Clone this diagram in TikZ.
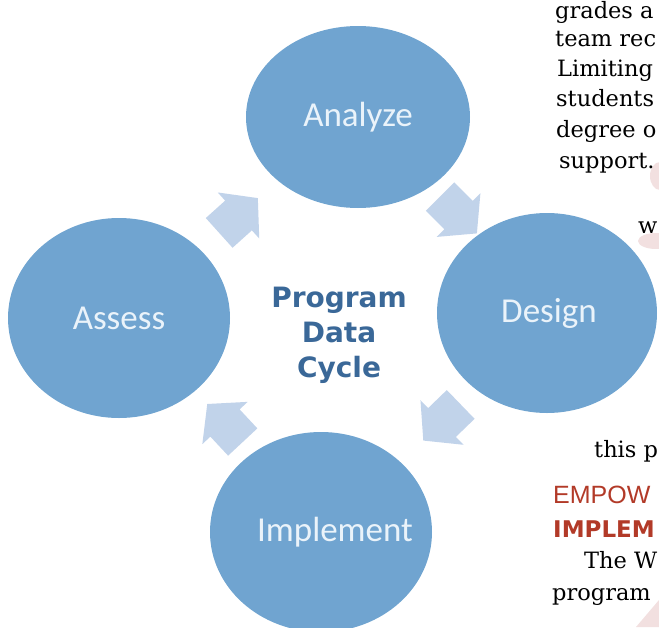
\documentclass[tikz,border=0pt]{standalone}
\usepackage{fontspec}
\setmainfont{DejaVu Serif}
\newfontfamily\bubblefont{Carlito}
\newfontfamily\hubfont{DejaVu Sans}
\newfontfamily\headfont{Liberation Sans}
\usetikzlibrary{positioning, calc, shapes.geometric}
\definecolor{bubble}{RGB}{112,164,208}
\definecolor{bubbletxt}{RGB}{234,243,250}
\definecolor{flow}{RGB}{193,211,234}
\definecolor{hubtxt}{RGB}{58,104,152}
\definecolor{pagered}{RGB}{178,58,40}
\definecolor{blush}{RGB}{242,224,224}

\begin{document}
\begin{tikzpicture}[x=1pt, y=-1pt,
    stage/.style={ellipse, fill=bubble, inner sep=0pt},
    tag/.style={text=bubbletxt, inner sep=0pt,
                font=\bubblefont\fontsize{35}{38}\selectfont},
    hub/.style={align=center, inner sep=0pt, text=hubtxt,
                font=\hubfont\bfseries\fontsize{28}{35}\selectfont},
    body/.style={anchor=base west, inner sep=0pt,
                 font=\fontsize{22.5}{31}\selectfont},
    head/.style={anchor=base west, inner sep=0pt, text=pagered},
  ]
  \useasboundingbox (0,0) rectangle (659,627);
  \clip (0,0) rectangle (659,627);

  % faint page decoration at the right edge
  \fill[blush] (660,176) ellipse (10 and 14);
  \fill[blush] (656,241) ellipse (18 and 8);
  \fill[blush] (636,627) -- (659,600) -- (659,627) -- cycle;

  % the four stages
  \node[stage, minimum width=224, minimum height=182,
        label={[tag]center:Analyze}] (analyze) at (358,117) {};
  \node[stage, minimum width=220, minimum height=200,
        label={[tag, xshift=2]center:Design}] (design) at (547,313) {};
  \node[stage, minimum width=222, minimum height=200,
        label={[tag, xshift=14]center:Implement}] (implement) at (321,532) {};
  \node[stage, minimum width=222, minimum height=200,
        label={[tag]center:Assess}] (assess) at (119,318) {};

  % block arrows half way between the stages
  \foreach \from/\to/\ang/\dx/\dy in {assess/analyze/42/0/-2, analyze/design/-45/6/0,
                                      design/implement/-136/8/0, implement/assess/133/5/-2} {
    \fill[flow, shift={($(\from)!0.5!(\to)+(\dx,\dy)$)}, rotate=\ang]
      (-26,-20) -- (0,-20) -- (0,-31) -- (26,0) -- (0,31) -- (0,20) -- (-26,20) -- cycle;
  }

  % title in the middle
  \node[hub] (title) at (339,335) {Program\\Data\\Cycle};

  % page text beside the figure
  \foreach \tx/\ty/\words in {555/18/grades a, 555/46/team rec, 557/76/Limiting,
                              556/106/students, 556/137/degree o, 559/168/support.,
                              638/233/w, 594/457/this p, 584/568/The W, 552/600/program} {
    \node[body] (line\ty) at (\tx,\ty) {\words};
  }
  \node[head, font=\headfont\fontsize{25}{28}\selectfont] (empower) at (553,503) {EMPOW};
  \node[head, font=\hubfont\bfseries\fontsize{23}{28}\selectfont] (implem) at (553,537) {IMPLEM};
\end{tikzpicture}
\end{document}
